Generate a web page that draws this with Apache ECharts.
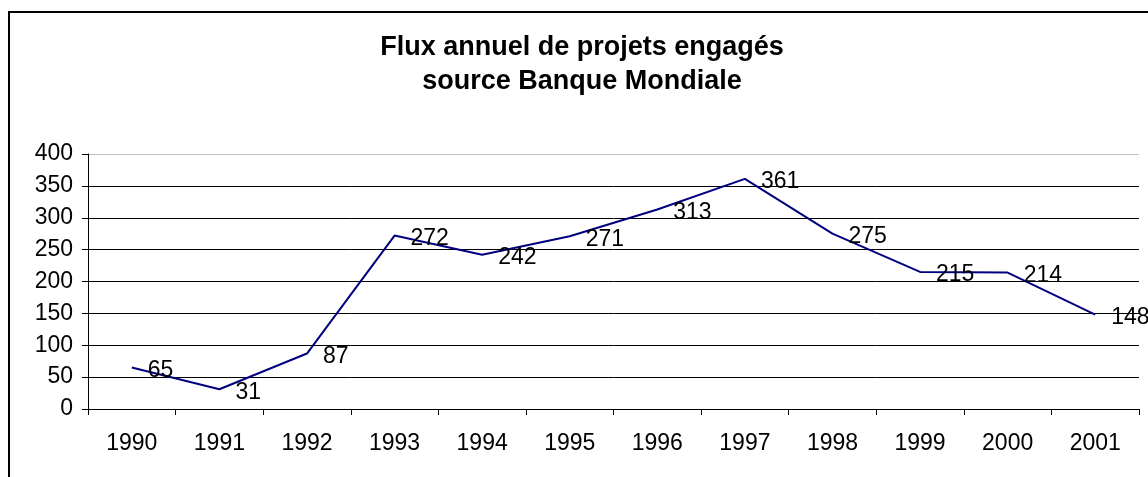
<!DOCTYPE html>
<html>
<head>
<meta charset="utf-8">
<script src="https://cdn.jsdelivr.net/npm/echarts@6/dist/echarts.min.js"></script>
<style>
  html, body { margin: 0; padding: 0; background: #fff; }
  #chart { width: 1148px; height: 477px; }
</style>
</head>
<body>
<div id="chart"></div>
<script>
// données
const years = ['1990', '1991', '1992', '1993', '1994', '1995', '1996', '1997', '1998', '1999', '2000', '2001'];
const projets = [65, 31, 87, 272, 242, 271, 313, 361, 275, 215, 214, 148];
const titleLines = ['Flux annuel de projets engagés', 'source Banque Mondiale'];

// lignes de quadrillage : noires, sauf celle du haut (400) en gris
const gridColors = ['#000', '#000', '#000', '#000', '#000', '#000', '#000', '#000', '#c0c0c0'];

const chart = echarts.init(document.getElementById('chart'));

const option = {
  animation: false,
  backgroundColor: '#fff',
  textStyle: { fontFamily: 'Liberation Sans, Arial, sans-serif' },
  title: {
    text: titleLines.join('\n'),
    left: 577,
    top: 26,
    textAlign: 'center',
    textStyle: {
      fontFamily: 'Liberation Sans, Arial, sans-serif',
      fontSize: 27,
      fontWeight: 'bold',
      color: '#000',
      lineHeight: 34
    }
  },
  graphic: [{
    type: 'rect',
    shape: { x: 9, y: 12, width: 1200, height: 500 },
    style: { fill: 'none', stroke: '#000', lineWidth: 2 },
    silent: true,
    z: 100
  }],
  grid: { left: 88, right: 9, top: 154, bottom: 68 },
  xAxis: {
    type: 'category',
    data: years,
    boundaryGap: true,
    axisLine: { lineStyle: { color: '#000', width: 1 } },
    axisTick: { show: true, interval: 0, length: 6, lineStyle: { color: '#000' } },
    axisLabel: { color: '#000', fontSize: 23, margin: 23, interval: 0 },
    splitLine: { show: false }
  },
  yAxis: {
    type: 'value',
    min: 0,
    max: 400,
    interval: 50,
    axisLine: { show: true, lineStyle: { color: '#000', width: 1 } },
    axisTick: { show: true, length: 6, lineStyle: { color: '#000' } },
    axisLabel: { color: '#000', fontSize: 23, margin: 15 },
    splitLine: { show: true, lineStyle: { color: gridColors, width: 1 } }
  },
  series: [{
    type: 'line',
    data: projets,
    symbol: 'circle',
    symbolSize: 0,
    showSymbol: true,
    lineStyle: { color: '#000080', width: 2 },
    itemStyle: { color: '#000080' },
    label: {
      show: true,
      position: 'right',
      distance: 16,
      offset: [0, 3],
      color: '#000',
      fontSize: 23,
      fontFamily: 'Liberation Sans, Arial, sans-serif'
    }
  }]
};

chart.setOption(option);
window.addEventListener('resize', () => chart.resize());
</script>
</body>
</html>
